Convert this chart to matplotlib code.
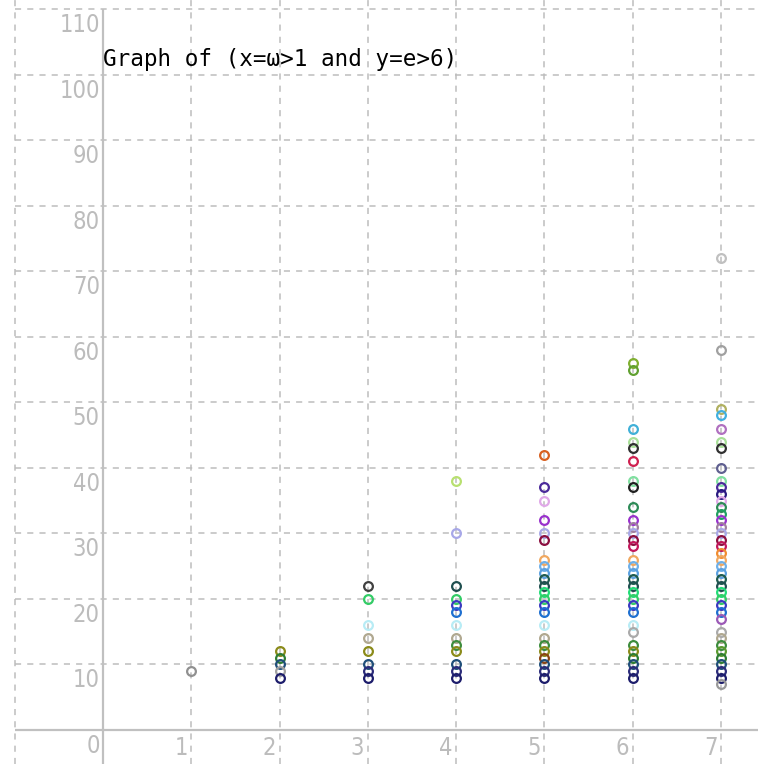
import matplotlib
matplotlib.use("Agg")
import matplotlib.pyplot as plt

# e values found for each omega
omega = [1, 2, 3, 4, 5, 6, 7]
e_by_omega = [
    [9],
    [12, 11, 10, 9, 8],
    [22, 20, 16, 14, 12, 10, 9, 8],
    [38, 30, 22, 20, 19, 18, 16, 14, 13, 12, 10, 9, 8],
    [42, 37, 35, 32, 30, 29, 26, 25, 24, 23, 22, 21, 20, 19, 18, 16, 14, 13,
     12, 11, 10, 9, 8],
    [56, 55, 46, 44, 43, 41, 38, 37, 34, 32, 31, 30, 29, 28, 26, 25, 24, 23,
     22, 21, 20, 19, 18, 16, 15, 13, 12, 11, 10, 9, 8],
    [72, 58, 49, 48, 46, 44, 43, 40, 38, 37, 36, 35, 34, 33, 32, 31, 30, 29,
     28, 27, 26, 25, 24, 23, 22, 21, 20, 19, 18, 17, 15, 14, 13, 12, 11, 10,
     9, 8, 7],
]

x_ticks = [0, 1, 2, 3, 4, 5, 6, 7]
y_ticks = [0, 10, 20, 30, 40, 50, 60, 70, 80, 90, 100, 110]
title = "Graph of (x=\u03c9>1 and y=e>6)"

# one ring colour per e value, plus a few single points that differ
ring_colors = {
    7: "#999999", 8: "#1c1c6b", 9: "#2b2b7a", 10: "#1f4e79", 11: "#2e7d32",
    12: "#8b8b1a", 13: "#3c8c3c", 14: "#b0a890", 15: "#aaaaaa", 16: "#b8ecf5",
    17: "#9b59b6", 18: "#1e6fd0", 19: "#3a3ac0", 20: "#33cc66", 21: "#22dd77",
    22: "#1f4f4f", 23: "#205c50", 24: "#5aa0e0", 25: "#6fb0e8", 26: "#f0a860",
    27: "#f08c30", 28: "#c2185b", 29: "#8b1040", 30: "#a8a8e8", 31: "#a080a0",
    32: "#9932cc", 33: "#20a060", 34: "#2e8b57", 35: "#e0a8e8", 36: "#2a1a80",
    37: "#4b2a9a", 38: "#80e0a0", 40: "#606090", 41: "#d02050", 42: "#d86020",
    43: "#303030", 44: "#a8e098", 46: "#40b0d8", 48: "#40b0e0", 49: "#b0b060",
    55: "#60a030", 56: "#80b030", 58: "#a0a0a0", 72: "#c0c0c0",
}
point_colors = {
    (1, 9): "#909090", (2, 9): "#a0a0a0", (3, 22): "#404040",
    (4, 38): "#b8e070", (5, 11): "#8b4513", (6, 37): "#202020",
    (7, 46): "#b070c0", (7, 12): "#5a9a30",
}

x_lo, x_hi = -1.166, 7.42
y_lo, y_hi = -5.2, 111.4

fig = plt.figure(figsize=(7.58, 7.64), dpi=100)
ax = fig.add_axes([0, 0, 1, 1])
ax.set_xlim(x_lo, x_hi)
ax.set_ylim(y_lo, y_hi)
ax.axis("off")

grid_kw = dict(color="#bdbdbd", linewidth=1.1, linestyles=(0, (4, 4)), zorder=1)
ax.hlines(y_ticks[1:], -1, x_hi, **grid_kw)
ax.vlines([-1] + x_ticks[1:], y_lo, y_hi, **grid_kw)
ax.hlines(0, -1, x_hi, color="#c0c0c0", lw=1.6, zorder=2)
ax.vlines(0, y_lo, 110, color="#c0c0c0", lw=1.6, zorder=2)

lab_kw = dict(color="#bcbcbc", fontsize=17, family=["DejaVu Sans"],
              fontstretch="condensed", fontweight="light")
for v in y_ticks:
    ax.text(-0.035, v - 0.6, str(v), ha="right", va="top", **lab_kw)
for v in x_ticks[1:]:
    ax.text(v - 0.04, -0.9, str(v), ha="right", va="top", **lab_kw)

for w, es in zip(omega, e_by_omega):
    for e in es:
        c = point_colors.get((w, e), ring_colors[e])
        ax.plot(w, e, "o", ms=6.3, mfc="none", mew=1.6, mec=c, zorder=3)

ax.text(0.0, 102.3, title, ha="left", va="center", fontsize=16.3,
        family=["DejaVu Sans Mono"], color="black")

fig.savefig("out.png", dpi=100)
